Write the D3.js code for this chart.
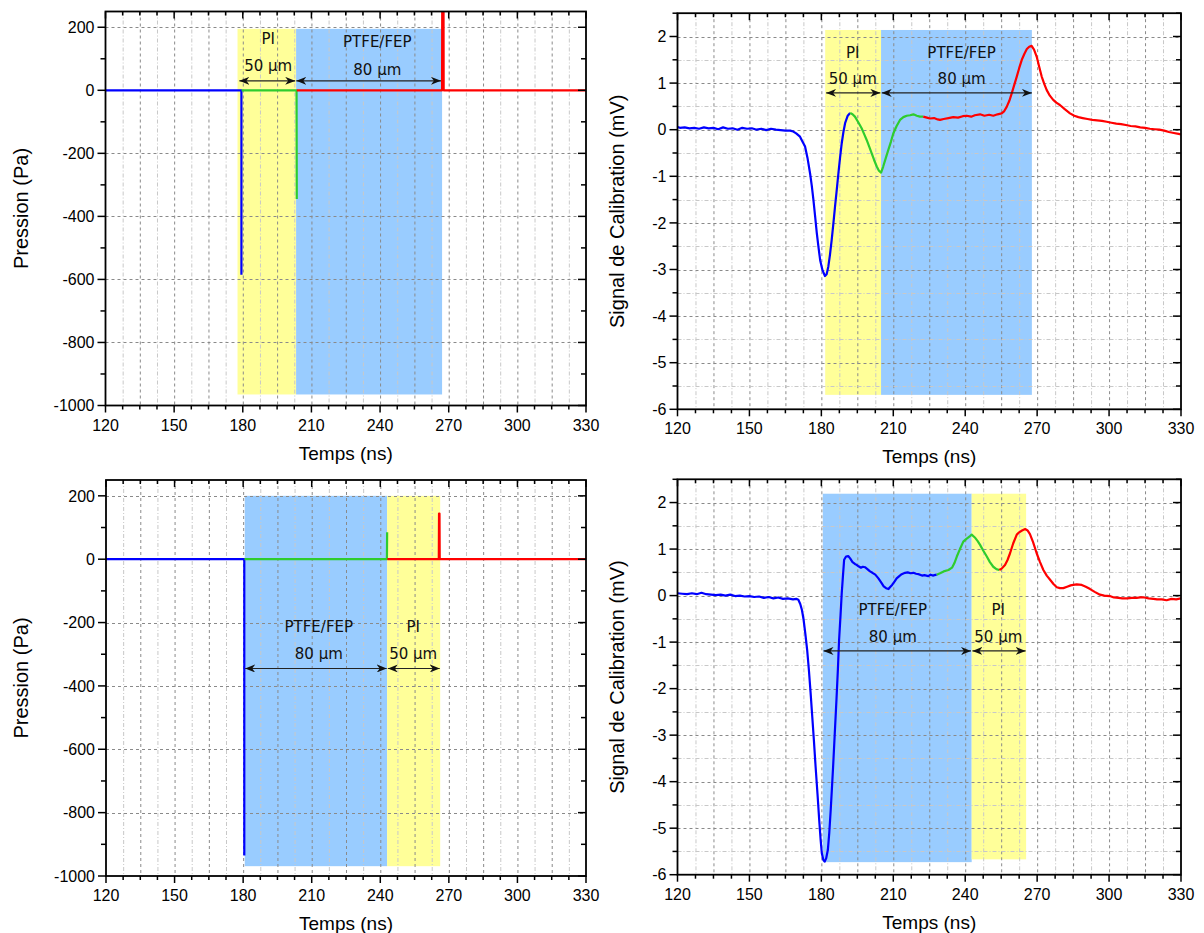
<!DOCTYPE html>
<html><head><meta charset="utf-8">
<script src="https://cdn.jsdelivr.net/npm/d3@7"></script>
<style>
html,body{margin:0;padding:0;background:#fff;}
svg{display:block;}
</style>
</head><body>
<svg id="chart" width="1204" height="933"></svg>
<script>
// ---------------- DATA ----------------
const xTickLabels = [120,150,180,210,240,270,300,330];
const pressTickLabels = [200,0,-200,-400,-600,-800,-1000];
const signalTickLabels = [2,1,0,-1,-2,-3,-4,-5,-6];

// Top-left: pressure (Pa)
const tlBlueT = [120, 179.4, 179.4];
const tlBlueV = [0, 0, -585];
const tlGreenT = [179.5, 203.5, 203.6];
const tlGreenV = [0, 0, -345];
const tlRedT = [203.6, 267.1, 267.2, 267.7, 267.8, 330];
const tlRedV = [0, 0, 420, 420, 0, 0];

// Bottom-left: pressure (Pa)
const blBlueT = [120, 180.5, 180.5];
const blBlueV = [0, 0, -935];
const blGreenT = [180.6, 242.9, 243.0];
const blGreenV = [0, 0, 85];
const blRedT = [243.1, 265.6, 265.7, 265.9, 266.0, 330];
const blRedV = [0, 0, 144, 144, 0, 0];

// Top-right: calibration signal (mV)
const trBlueT = [120,121,123,125,127,129,131,133,135,137,139,141,143,145,147,149,151,153,155,157,159,161,163,165,167,168.3,169.5,171.1,172,173.2,174.2,175.3,176,176.7,177.4,178.1,178.8,179.5,180.5,181.5,182.2,182.9,183.6,184.3,185,185.7,186.4,187.1,187.8,188.5,189.2,189.9,191,192];
const trBlueV = [0.06,0.04,0.05,0.03,0.04,0.02,0.05,0.03,0.04,0.01,0.05,0.02,0.03,0.0,0.04,0.02,0.03,0.0,0.02,-0.01,0.02,0.0,-0.01,-0.02,-0.02,-0.04,-0.08,-0.15,-0.24,-0.36,-0.6,-0.94,-1.2,-1.51,-1.86,-2.22,-2.52,-2.8,-3.02,-3.14,-3.1,-2.94,-2.68,-2.37,-2.02,-1.65,-1.3,-0.94,-0.6,-0.29,-0.05,0.14,0.3,0.36];
const trGreenT = [192,193,194,195.4,196.8,197.9,198.9,200,201,202,203.1,204,204.9,205.8,206.8,207.9,209,210,211.4,212.8,214.2,215.6,217,218.4,219.8,221.1,222.5];
const trGreenV = [0.36,0.33,0.28,0.16,0.03,-0.1,-0.22,-0.37,-0.51,-0.65,-0.79,-0.88,-0.92,-0.79,-0.62,-0.44,-0.26,-0.08,0.08,0.21,0.27,0.3,0.31,0.33,0.3,0.28,0.28];
const trRedT = [222.5,224,225.3,227,228.5,229.5,231,233,235,237,239,240.6,242.5,244,246.2,248,250,251.7,253.5,255.2,256.3,257.3,258.4,259.4,260.4,261.5,262.5,263.6,264.7,265.7,266.7,267.7,268.7,269.8,270.8,271.9,273,274,275.3,276.7,278,279.5,281.5,283.7,285.5,287.2,289,291,293,295,297,299,301,303,305,307,309,311,313,315,317,319,321,323,325,327,329,330];
const trRedV = [0.28,0.26,0.24,0.25,0.22,0.21,0.23,0.25,0.27,0.26,0.29,0.3,0.28,0.31,0.33,0.3,0.32,0.3,0.33,0.35,0.4,0.49,0.62,0.78,0.95,1.14,1.32,1.5,1.63,1.73,1.78,1.8,1.72,1.57,1.36,1.14,0.98,0.85,0.73,0.64,0.58,0.53,0.44,0.35,0.3,0.27,0.25,0.23,0.21,0.2,0.19,0.17,0.15,0.13,0.12,0.1,0.08,0.07,0.05,0.04,0.02,0.01,0.0,-0.02,-0.05,-0.07,-0.09,-0.1];

// Bottom-right: calibration signal (mV)
const brBlueT = [120,122,124,126,128,130,132,134,136,138,140,142,144,146,148,150,152,154,156,158,160,162,164,166,168.2,169.5,170.4,171.2,171.9,172.6,173.3,174.1,174.8,175.5,176.2,176.9,177.6,178.4,179.1,179.7,180.2,180.8,181.4,182,182.7,183.3,183.9,184.4,184.9,185.6,186.3,186.9,187.4,188,188.5,189,189.5,190.3,191.2,192,193,194,194.7,195.5,196.5,197.3,198.2,199.2,200.3,201.3,202.5,203.8,205,206,207,208,208.6,209.5,210.5,211.4,212.5,213.5,214.9,216,217.2,218.4,219.5,220.5,221.1,222,223,224.6,225.5,226.5,227.2,228.1];
const brBlueV = [0.05,0.04,0.03,0.05,0.03,0.06,0.03,0.02,0.01,0.02,0.0,0.02,-0.01,0.0,-0.02,-0.01,-0.03,-0.02,-0.05,-0.03,-0.06,-0.04,-0.07,-0.06,-0.08,-0.07,-0.09,-0.18,-0.31,-0.52,-0.81,-1.18,-1.6,-2.08,-2.6,-3.12,-3.68,-4.27,-4.82,-5.25,-5.54,-5.68,-5.72,-5.65,-5.47,-5.1,-4.61,-4.15,-3.68,-2.96,-2.24,-1.58,-0.95,-0.42,0.05,0.42,0.77,0.84,0.85,0.8,0.72,0.68,0.66,0.63,0.6,0.62,0.61,0.57,0.52,0.49,0.45,0.37,0.28,0.2,0.16,0.14,0.18,0.23,0.3,0.37,0.42,0.46,0.49,0.5,0.48,0.49,0.47,0.46,0.45,0.43,0.44,0.42,0.45,0.43,0.44,0.45];
const brGreenT = [228.1,229.5,231,233,234.5,235.5,236.5,237.8,239.2,240.5,242,242.7,244,245.2,246.2,247.5,249,250.3,251.7,253,254.2];
const brGreenV = [0.45,0.48,0.52,0.55,0.6,0.7,0.84,1.0,1.16,1.22,1.28,1.31,1.25,1.17,1.09,0.97,0.84,0.72,0.62,0.57,0.55];
const brRedT = [254.2,255.2,256.6,257.6,258.7,260,261.5,262.5,263.7,265,266,267,268.3,269.8,271.2,272.6,274,275.4,276.8,278.2,279.5,280.9,282.5,284,285.1,286.5,288.6,290.3,292.1,294,296.2,298,300.3,302,304,305.5,307.5,309.5,311.5,313,314.7,316.5,318.5,320,322,324,326,328,330];
const brRedV = [0.55,0.58,0.66,0.76,0.91,1.12,1.31,1.36,1.4,1.43,1.4,1.32,1.15,0.91,0.72,0.55,0.43,0.34,0.25,0.18,0.16,0.16,0.19,0.22,0.23,0.24,0.23,0.19,0.14,0.08,0.02,0.0,-0.01,-0.04,-0.05,-0.06,-0.06,-0.05,-0.05,-0.04,-0.04,-0.06,-0.07,-0.08,-0.08,-0.1,-0.07,-0.08,-0.06];

// Layer bands: [name, start, end, low, high]
const tlBands = [["PI",177.7,203.3,-965,195],["PTFE/FEP",203.3,267.1,-965,195]];
const trBands = [["PI",181.6,204.9,-5.69,2.14],["PTFE/FEP",204.9,267.8,-5.69,2.14]];
const blBands = [["PTFE/FEP",180.7,243.0,-969,200],["PI",243.0,266.2,-969,200]];
const brBands = [["PTFE/FEP",180.6,242.7,-5.73,2.19],["PI",242.7,265.4,-5.67,2.19]];

// Annotations: [name, thickness, arrowStart, arrowEnd, arrowY, textX, nameY, thickY]
const tlNotes = [["PI","50 µm",178.5,202.9,30,191.1,162,79],["PTFE/FEP","80 µm",203.4,266.6,30,238.8,153,66]];
const trNotes = [["PI","50 µm",182.0,204.6,0.79,193.1,1.66,1.1],["PTFE/FEP","80 µm",205.2,267.8,0.79,238.5,1.66,1.1]];
const blNotes = [["PTFE/FEP","80 µm",180.9,242.8,-345,213.1,-212,-299],["PI","50 µm",243.3,266.0,-345,254.4,-212,-299]];
const brNotes = [["PTFE/FEP","80 µm",180.9,242.4,-1.19,209.8,-0.3,-0.88],["PI","50 µm",243.0,265.2,-1.19,253.8,-0.3,-0.88]];

// ---------------- DRAWING ----------------
const svg = d3.select("#chart");
const COLORS = {blue:"#0000ff", green:"#2ecc2e", red:"#ff0000"};
const BAND = {"PI":"#ffff99", "PTFE/FEP":"#99ccff"};
const NUM_FONT = "'Liberation Sans', Arial, sans-serif";
const NOTE_FONT = "'DejaVu Sans', Verdana, sans-serif";

const defs = svg.append("defs");
function mk(id, orient){
  const m = defs.append("marker").attr("id",id).attr("viewBox","0 0 10 8")
    .attr("refX",10).attr("refY",4).attr("markerWidth",10).attr("markerHeight",8)
    .attr("markerUnits","userSpaceOnUse").attr("orient",orient);
  m.append("path").attr("d","M0,0 L10,4 L0,8 L3,4 Z").attr("fill","#111");
}
mk("arrowEnd","auto");
mk("arrowStart","auto-start-reverse");

function zip(t,v){ return t.map((d,i)=>[d,v[i]]); }

function panel(cfg){
  const g = svg.append("g");
  const x = d3.scaleLinear().domain([120,330]).range([cfg.left,cfg.right]);
  const y = d3.scaleLinear().domain(cfg.yDomain).range([cfg.bottom,cfg.top]);
  const clipId = "clip"+cfg.id;
  defs.append("clipPath").attr("id",clipId).append("rect")
    .attr("x",cfg.left).attr("y",cfg.top).attr("width",cfg.right-cfg.left).attr("height",cfg.bottom-cfg.top);

  // bands
  g.append("g").selectAll("rect").data(cfg.bands).join("rect")
    .attr("x",d=>x(d[1])).attr("width",d=>x(d[2])-x(d[1]))
    .attr("y",d=>y(d[4])).attr("height",d=>y(d[3])-y(d[4]))
    .attr("fill",d=>BAND[d[0]]);

  // grid
  const grid = g.append("g");
  const xMinorGrid = d3.range(127.5,330,15);
  const xMajorGrid = d3.range(135,330,15);
  grid.selectAll(".vmin").data(xMinorGrid).join("line")
    .attr("x1",d=>x(d)+0.5).attr("x2",d=>x(d)+0.5).attr("y1",cfg.top).attr("y2",cfg.bottom)
    .attr("stroke","#c8c8c8").attr("stroke-width",1).attr("stroke-dasharray","4,2,1,2");
  grid.selectAll(".vmaj").data(xMajorGrid).join("line")
    .attr("x1",d=>x(d)+0.5).attr("x2",d=>x(d)+0.5).attr("y1",cfg.top).attr("y2",cfg.bottom)
    .attr("stroke","#8a8a8a").attr("stroke-width",1).attr("stroke-dasharray","3,3");
  if (cfg.yMinorGrid){
    grid.selectAll(".hmin").data(cfg.yMinorGrid).join("line")
      .attr("x1",cfg.left).attr("x2",cfg.right).attr("y1",d=>Math.round(y(d))+0.5).attr("y2",d=>Math.round(y(d))+0.5)
      .attr("stroke","#c8c8c8").attr("stroke-width",1).attr("stroke-dasharray","4,2,1,2");
  }
  grid.selectAll(".hmaj").data(cfg.yMajorGrid).join("line")
    .attr("x1",cfg.left).attr("x2",cfg.right).attr("y1",d=>Math.round(y(d))+0.5).attr("y2",d=>Math.round(y(d))+0.5)
    .attr("stroke","#8a8a8a").attr("stroke-width",1).attr("stroke-dasharray","3,3");

  // data lines
  const line = d3.line().x(d=>x(d[0])).y(d=>y(d[1]));
  const lg = g.append("g").attr("clip-path","url(#"+clipId+")");
  cfg.series.forEach(s=>{
    lg.append("path").datum(zip(s.t,s.v)).attr("d",line)
      .attr("fill","none").attr("stroke",COLORS[s.c]).attr("stroke-width",2.2)
      .attr("stroke-linejoin","round");
  });

  // annotations
  const ng = g.append("g");
  cfg.notes.forEach(n=>{
    ng.append("line").attr("x1",x(n[2])).attr("x2",x(n[3])).attr("y1",y(n[4])).attr("y2",y(n[4]))
      .attr("stroke","#222").attr("stroke-width",1.2)
      .attr("marker-start","url(#arrowStart)").attr("marker-end","url(#arrowEnd)");
    ng.append("text").attr("x",x(n[5])).attr("y",y(n[6])).attr("dy","0.35em")
      .attr("text-anchor","middle").attr("font-family",NOTE_FONT).attr("font-size",15).attr("fill","#111").text(n[0]);
    ng.append("text").attr("x",x(n[5])).attr("y",y(n[7])).attr("dy","0.35em")
      .attr("text-anchor","middle").attr("font-family",NOTE_FONT).attr("font-size",15).attr("fill","#111").text(n[1]);
  });

  // axes
  const ag = g.append("g");
  const xAll = d3.range(120,330.01,7.5);
  const xIsMajor = d=>Math.abs((d-120)%30)<1e-6;
  ag.selectAll(".bt").data(xAll).join("line")
    .attr("x1",d=>x(d)).attr("x2",d=>x(d)).attr("y1",cfg.bottom).attr("y2",d=>cfg.bottom+(xIsMajor(d)?7:4))
    .attr("stroke","#000").attr("stroke-width",1.5);
  ag.selectAll(".tt").data(xAll).join("line")
    .attr("x1",d=>x(d)).attr("x2",d=>x(d)).attr("y1",cfg.top).attr("y2",d=>cfg.top+(xIsMajor(d)?7:4))
    .attr("stroke","#000").attr("stroke-width",1.5);
  ag.selectAll(".xl").data(xTickLabels).join("text")
    .attr("x",d=>x(d)).attr("y",cfg.bottom+25).attr("text-anchor","middle")
    .attr("font-family",NUM_FONT).attr("font-size",16).attr("fill","#000").text(d=>String(d));
  const yAll = cfg.yTicksAll;
  const yIsMajor = d=>cfg.yLabels.some(v=>Math.abs(v-d)<1e-9);
  ag.selectAll(".lt").data(yAll).join("line")
    .attr("y1",d=>y(d)).attr("y2",d=>y(d)).attr("x1",cfg.left).attr("x2",d=>cfg.left-(yIsMajor(d)?8:5))
    .attr("stroke","#000").attr("stroke-width",1.5);
  ag.selectAll(".rt").data(yAll).join("line")
    .attr("y1",d=>y(d)).attr("y2",d=>y(d)).attr("x1",cfg.right).attr("x2",d=>cfg.right-(yIsMajor(d)?8:5))
    .attr("stroke","#000").attr("stroke-width",1.5);
  ag.selectAll(".yl").data(cfg.yLabels).join("text")
    .attr("x",cfg.left-11).attr("y",d=>y(d)).attr("dy","0.36em").attr("text-anchor","end")
    .attr("font-family",NUM_FONT).attr("font-size",16).attr("fill","#000").text(d=>String(d));
  ag.append("rect").attr("x",cfg.left).attr("y",cfg.top).attr("width",cfg.right-cfg.left).attr("height",cfg.bottom-cfg.top)
    .attr("fill","none").attr("stroke","#000").attr("stroke-width",1.8);
  ag.append("text").attr("x",(cfg.left+cfg.right)/2).attr("y",cfg.bottom+54).attr("text-anchor","middle")
    .attr("font-family",NUM_FONT).attr("font-size",19).attr("fill","#000").text("Temps (ns)");
  const cy=(cfg.top+cfg.bottom)/2;
  ag.append("text").attr("transform",`translate(${cfg.titleX},${cy}) rotate(-90)`).attr("text-anchor","middle")
    .attr("font-family",NUM_FONT).attr("font-size",20).attr("fill","#000").text(cfg.yTitle);
}

const pressAll = d3.range(-1000,250.01,100);
const sigAll = d3.range(-6,2.501,0.5);

panel({id:"tl", left:105.5, right:586, top:11.5, bottom:405.5, yDomain:[-1000,250],
  yLabels:pressTickLabels, yTicksAll:pressAll, yMajorGrid:[200,0,-200,-400,-600,-800], yMinorGrid:null,
  yTitle:"Pression (Pa)", titleX:28, bands:tlBands, notes:tlNotes,
  series:[{t:tlBlueT,v:tlBlueV,c:"blue"},{t:tlGreenT,v:tlGreenV,c:"green"},{t:tlRedT,v:tlRedV,c:"red"}]});
panel({id:"tr", left:677.5, right:1181, top:13.2, bottom:409.3, yDomain:[-6,2.5],
  yLabels:signalTickLabels, yTicksAll:sigAll, yMajorGrid:[2,1,0,-1,-2,-3,-4,-5], yMinorGrid:[1.5,0.5,-0.5,-1.5,-2.5,-3.5,-4.5,-5.5],
  yTitle:"Signal de Calibration (mV)", titleX:624, bands:trBands, notes:trNotes,
  series:[{t:trBlueT,v:trBlueV,c:"blue"},{t:trGreenT,v:trGreenV,c:"green"},{t:trRedT,v:trRedV,c:"red"}]});
panel({id:"bl", left:106, right:586, top:480, bottom:876, yDomain:[-1000,250],
  yLabels:pressTickLabels, yTicksAll:pressAll, yMajorGrid:[200,0,-200,-400,-600,-800], yMinorGrid:null,
  yTitle:"Pression (Pa)", titleX:28, bands:blBands, notes:blNotes,
  series:[{t:blBlueT,v:blBlueV,c:"blue"},{t:blGreenT,v:blGreenV,c:"green"},{t:blRedT,v:blRedV,c:"red"}]});
panel({id:"br", left:677.5, right:1181, top:479.3, bottom:874.7, yDomain:[-6,2.5],
  yLabels:signalTickLabels, yTicksAll:sigAll, yMajorGrid:[2,1,0,-1,-2,-3,-4,-5], yMinorGrid:[1.5,0.5,-0.5,-1.5,-2.5,-3.5,-4.5,-5.5],
  yTitle:"Signal de Calibration (mV)", titleX:624, bands:brBands, notes:brNotes,
  series:[{t:brBlueT,v:brBlueV,c:"blue"},{t:brGreenT,v:brGreenV,c:"green"},{t:brRedT,v:brRedV,c:"red"}]});
</script>
</body></html>
